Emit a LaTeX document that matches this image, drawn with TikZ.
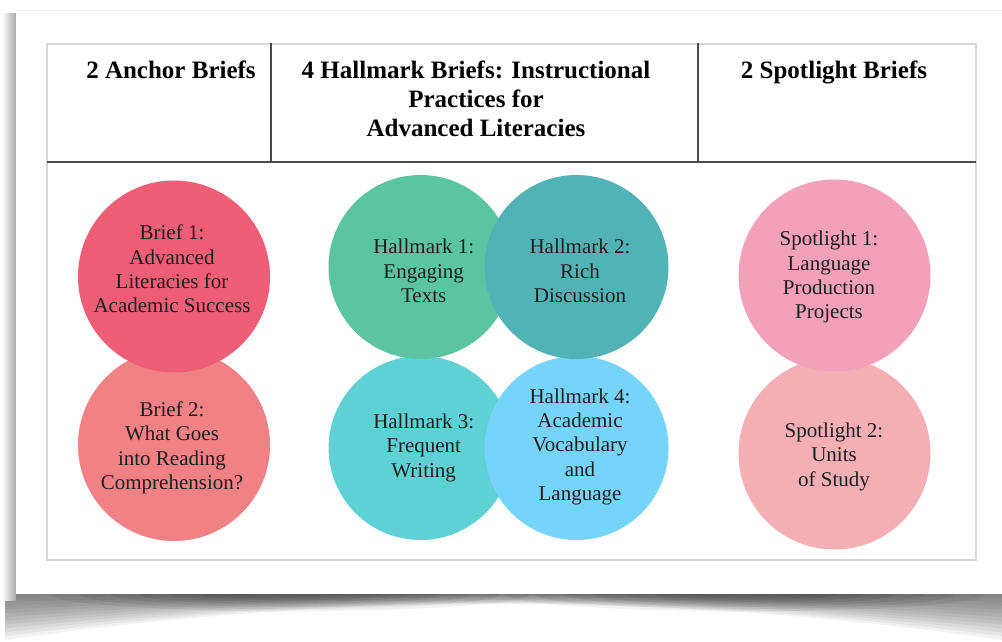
\documentclass[tikz,border=0pt]{standalone}
\usepackage{fontspec}
\setmainfont{Liberation Serif}
\definecolor{txt}{HTML}{1E1E1E}
\definecolor{cBa}{HTML}{EE5E77}
\definecolor{cBb}{HTML}{F08185}
\definecolor{cHa}{HTML}{5BC5A2}
\definecolor{cHb}{HTML}{52B3B6}
\definecolor{cHc}{HTML}{5FD0D4}
\definecolor{cHd}{HTML}{76D4FB}
\definecolor{cSa}{HTML}{F2A1B9}
\definecolor{cSb}{HTML}{F4AFB5}
\definecolor{tblgray}{HTML}{D6D6D6}
\definecolor{rulegray}{HTML}{4A4A4A}
\tikzset{
  bigdisc/.style={circle, inner sep=0pt, draw=none, minimum size=192pt},
  halldisc/.style={circle, inner sep=0pt, draw=none, minimum size=184pt},
  lbl/.style={align=center, text=txt, inner sep=0pt, font=\fontsize{21}{24.3}\selectfont},
  hdr/.style={align=center, text=black, inner sep=0pt, font=\fontsize{25}{29}\selectfont\bfseries},
  tblline/.style={draw=tblgray, line width=1.4pt},
  hrule/.style={draw=rulegray, line width=1.5pt},
}
\begin{document}
\begin{tikzpicture}[x=1pt,y=-1pt]
\useasboundingbox (0,0) rectangle (1002,642);
\fill[white] (0,0) rectangle (1002,642);
% bottom curved shadow
\foreach \k in {1,...,12}{
  \pgfmathsetmacro{\E}{46*\k/12}
  \pgfmathsetmacro{\M}{10*\k/12}
  \pgfmathsetmacro{\yb}{594+\E}
  \pgfmathsetmacro{\yc}{594+\E+4/3*(\M-\E)}
  \fill[black, opacity=0.05] (5,594) -- (1002,594) -- (1002,\yb)
     .. controls (669.7,\yc) and (337.3,\yc) .. (5,\yb) -- cycle;
}
\begin{scope}
  \clip (5,594) rectangle (1002,642);
  \foreach \k in {1,...,6}{
    \fill[black, opacity=0.055] (290,594) ellipse ({60+30*\k} and {4+2.2*\k});
    \fill[black, opacity=0.055] (745,594) ellipse ({60+30*\k} and {4+2.2*\k});
  }
\end{scope}
% left shadow
\shade[left color=white, right color=black!35] (2,14) rectangle (16,600);
% card
\fill[white] (16,10) rectangle (1002,594);
\draw[black!7, line width=0.8pt] (16,10) -- (1002,10);
% table
\draw[tblline] (47,44) rectangle (976,560);
\draw[hrule] (47,162) -- (976,162);
\draw[hrule] (271,43) -- (271,162);
\draw[hrule] (698,43) -- (698,162);
% headers
\node[hdr] (hA) at (171,69.8) {2 Anchor Briefs};
\node[hdr] (hH) at (476,99) {4 Hallmark Briefs: Instructional\\Practices for\\Advanced Literacies};
\node[hdr] (hS) at (834,72.5) {2 Spotlight Briefs};
% anchor briefs
\node[bigdisc, fill=cBb] (b2) at (174,445) {};
\node[bigdisc, fill=cBa] (b1) at (174,276.5) {};
\node[lbl] (b1t) at (172,269) {Brief 1:\\Advanced\\Literacies for\\Academic Success};
\node[lbl] (b2t) at (172,447.7) {Brief 2:\\What Goes\\into Reading\\Comprehension?};
% hallmarks
\node[halldisc, fill=cHc] (h3) at (420.5,448) {};
\node[halldisc, fill=cHd] (h4) at (576.5,448) {};
\node[halldisc, fill=cHa] (h1) at (420.5,267) {};
\node[halldisc, fill=cHb] (h2) at (576.5,267) {};
\node[lbl] (h1t) at (423.7,271) {Hallmark 1:\\Engaging\\Texts};
\node[lbl] (h2t) at (580,271) {Hallmark 2:\\Rich\\Discussion};
\node[lbl] (h3t) at (423.7,447.7) {Hallmark 3:\\Frequent\\Writing};
\node[lbl] (h4t) at (580,446.8) {Hallmark 4:\\Academic\\Vocabulary\\and\\Language};
% spotlights
\node[bigdisc, fill=cSb] (s2) at (834.5,453.5) {};
\node[bigdisc, fill=cSa] (s1) at (834.5,275.5) {};
\node[lbl] (s1t) at (829,277.3) {Spotlight 1:\\Language\\Production\\Projects};
\node[lbl] (s2t) at (834,456.8) {Spotlight 2:\\Units\\of Study};
\end{tikzpicture}
\end{document}
